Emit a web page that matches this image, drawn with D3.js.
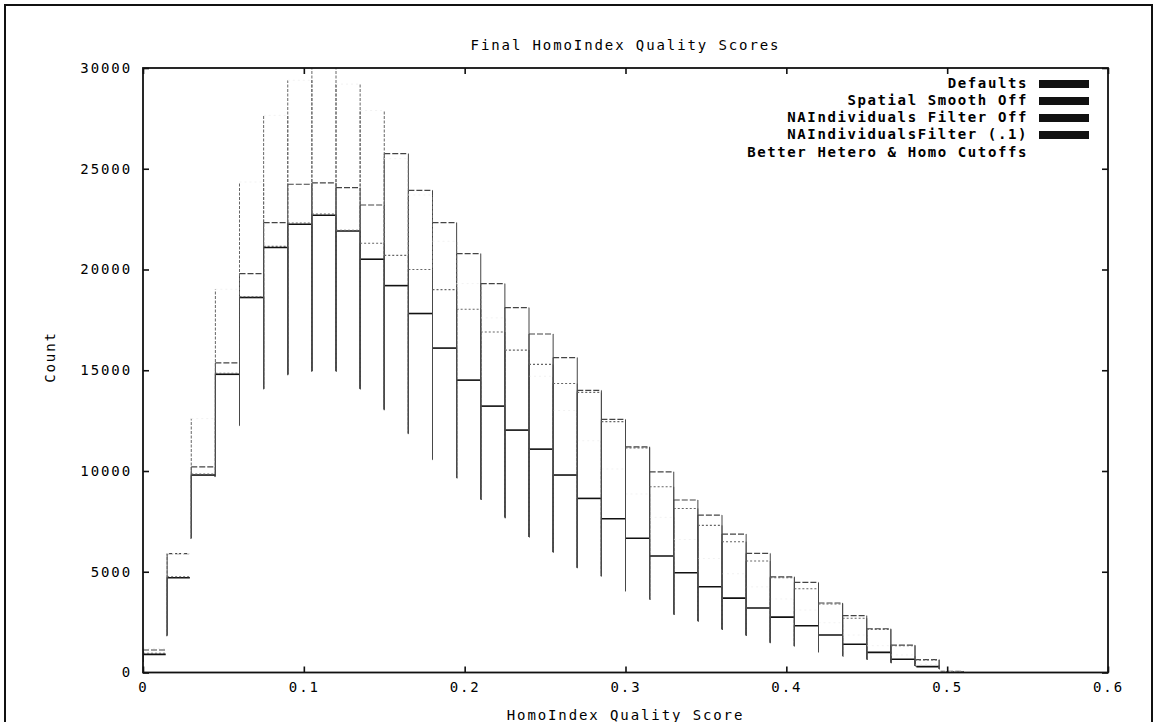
<!DOCTYPE html>
<html><head><meta charset="utf-8">
<script src="https://cdn.jsdelivr.net/npm/d3@7"></script>
<style>
body{margin:0;background:#fff;}
svg text{font-family:"DejaVu Sans Mono",monospace;font-size:14px;letter-spacing:1.9px;fill:#000;}
</style></head><body>
<svg id="chart" width="1157" height="722"></svg>
<script>
// ---- data ----
const binStarts = [0.000,0.015,0.030,0.045,0.060,0.075,0.090,0.105,0.120,0.135,0.150,0.165,0.180,0.195,0.210,0.225,0.240,0.255,0.270,0.285,0.300,0.315,0.330,0.345,0.360,0.375,0.390,0.405,0.420,0.435,0.450,0.465,0.480,0.495];
const binWidth = 0.015;
const seriesNames = ["Defaults","Spatial Smooth Off","NAIndividuals Filter Off","NAIndividualsFilter (.1)","Better Hetero & Homo Cutoffs"];
const defaultsCounts = [900,4700,9800,14800,18610,21090,22245,22690,21910,20510,19200,17815,16100,14510,13220,12030,11085,9800,8640,7630,6660,5780,4950,4255,3690,3200,2750,2320,1860,1400,1000,655,290,40];
const spatialOffCounts = [1116,5900,10200,15370,19800,22330,24230,24300,24065,23200,25750,23930,22330,20790,19300,18110,16800,15630,14000,12560,11200,9960,8560,7810,6870,5910,4750,4470,3450,2820,2170,1360,640,60];
const naFilterOffCounts = [1200,5900,12600,19020,24340,27650,29390,31800,29200,27890,25500,23700,21400,19300,17600,16000,14700,13000,11500,10100,8860,7700,6600,5660,4900,4250,3650,3100,2470,1860,1330,870,390,60];
const naFilter01Counts = [950,4750,9850,14850,18650,21150,22300,22750,21950,21300,20700,20000,19000,18030,16900,16000,15290,14340,13900,12450,11150,9215,8140,7300,6490,5530,4700,4160,3400,2690,2140,1330,620,50];
const betterCutoffCounts = [500,1800,6630,9700,12230,14050,14755,14920,14050,13020,11830,10540,9630,8560,7660,6700,5940,5170,4750,4010,3600,2850,2520,2110,1810,1450,1280,980,785,620,455,300,150,20];
const xTicks = [0,0.1,0.2,0.3,0.4,0.5,0.6];
const yTicks = [0,5000,10000,15000,20000,25000,30000];

// ---- layout ----
const svg = d3.select("#chart");
const L = 143, R = 1108, T = 68, B = 672.5;
const x = d3.scaleLinear().domain([0,0.6]).range([L,R]);
const y = d3.scaleLinear().domain([0,30000]).range([B,T]);

svg.append("rect").attr("x",5).attr("y",5).attr("width",1147).attr("height",730)
  .attr("fill","none").attr("stroke","#111").attr("stroke-width",2);

svg.append("defs").append("clipPath").attr("id","plotclip")
  .append("rect").attr("x",L).attr("y",T).attr("width",R-L).attr("height",B-T);

// box outlines per series (scanned print: the last, pale colour faded to white)
const series = [
  {name:seriesNames[0], vals:defaultsCounts,     side:{c:"#333",w:1,d:null},      top:{c:"#111",w:1.6,d:null},   sample:"#111"},
  {name:seriesNames[1], vals:spatialOffCounts,   side:{c:"#444",w:1,d:null},      top:{c:"#444",w:1.2,d:"6,2"},  sample:"#111"},
  {name:seriesNames[2], vals:naFilterOffCounts,  side:{c:"#666",w:1,d:"3,1.5"},   top:{c:"#f2f2f2",w:1,d:"2,3"}, sample:"#111"},
  {name:seriesNames[3], vals:naFilter01Counts,   side:{c:"#484848",w:0.9,d:null}, top:{c:"#666",w:1.1,d:"2,2"},  sample:"#111"},
  {name:seriesNames[4], vals:betterCutoffCounts, side:{c:"#ffffff",w:2.8,d:null}, top:{c:"#ffffff",w:1,d:null},  sample:"#ffffff"}
];

const g = svg.append("g").attr("clip-path","url(#plotclip)");
series.forEach(s=>{
  const bars = binStarts.map((b,i)=>({x0:b, x1:b+binWidth, v:s.vals[i]}));
  const sides = bars.flatMap(d=>[{x:d.x0,v:d.v},{x:d.x1,v:d.v}]);
  const sg = g.append("g");
  sg.selectAll("line.side").data(sides).enter().append("line").attr("class","side")
    .attr("x1",d=>x(d.x)).attr("x2",d=>x(d.x)).attr("y1",y(0)).attr("y2",d=>y(d.v))
    .attr("stroke",s.side.c).attr("stroke-width",s.side.w).attr("stroke-dasharray",s.side.d);
  sg.selectAll("line.top").data(bars).enter().append("line").attr("class","top")
    .attr("x1",d=>x(d.x0)).attr("x2",d=>x(d.x1)).attr("y1",d=>y(d.v)).attr("y2",d=>y(d.v))
    .attr("stroke",s.top.c).attr("stroke-width",s.top.w).attr("stroke-dasharray",s.top.d);
});

// axes
const fmtX = d=> d===0 ? "0" : d3.format(".1f")(d);
const ax = svg.append("g").attr("transform",`translate(0,${B})`)
  .call(d3.axisBottom(x).tickValues(xTicks).tickFormat(fmtX).tickSize(-6).tickPadding(10));
const ay = svg.append("g").attr("transform",`translate(${L},0)`)
  .call(d3.axisLeft(y).tickValues(yTicks).tickFormat(d3.format("d")).tickSize(-6).tickPadding(11));
const axT = svg.append("g").attr("transform",`translate(0,${T})`)
  .call(d3.axisTop(x).tickValues(xTicks).tickFormat("").tickSize(-6));
const ayR = svg.append("g").attr("transform",`translate(${R},0)`)
  .call(d3.axisRight(y).tickValues(yTicks).tickFormat("").tickSize(-6));
[ax,ay,axT,ayR].forEach(a=>{
  a.select(".domain").remove();
  a.selectAll(".tick line").attr("stroke","#111").attr("stroke-width",1.6);
  a.selectAll("text").attr("font-family",null).attr("font-size",null).attr("fill","#000");
});
svg.append("rect").attr("x",L).attr("y",T).attr("width",R-L).attr("height",B-T)
  .attr("fill","none").attr("stroke","#111").attr("stroke-width",1.8);

// titles
svg.append("text").attr("x",(L+R)/2).attr("y",46).attr("text-anchor","middle")
  .attr("dominant-baseline","middle").style("font-size","14px").style("letter-spacing","1.9px")
  .text("Final HomoIndex Quality Scores");
svg.append("text").attr("x",(L+R)/2).attr("y",716).attr("text-anchor","middle")
  .attr("dominant-baseline","middle").text("HomoIndex Quality Score");
svg.append("text").attr("transform","translate(51,357) rotate(-90)").attr("text-anchor","middle")
  .attr("dominant-baseline","middle").text("Count");

// legend
const legY = [84,101,118,135,153];
const leg = svg.append("g");
series.forEach((s,i)=>{
  leg.append("text").attr("x",1028).attr("y",legY[i]).attr("text-anchor","end")
    .attr("dominant-baseline","middle").style("font-weight","bold").style("letter-spacing","1.6px").text(s.name);
  leg.append("rect").attr("x",1039).attr("y",legY[i]-4).attr("width",50).attr("height",8).attr("fill",s.sample);
});
</script>
</body></html>
